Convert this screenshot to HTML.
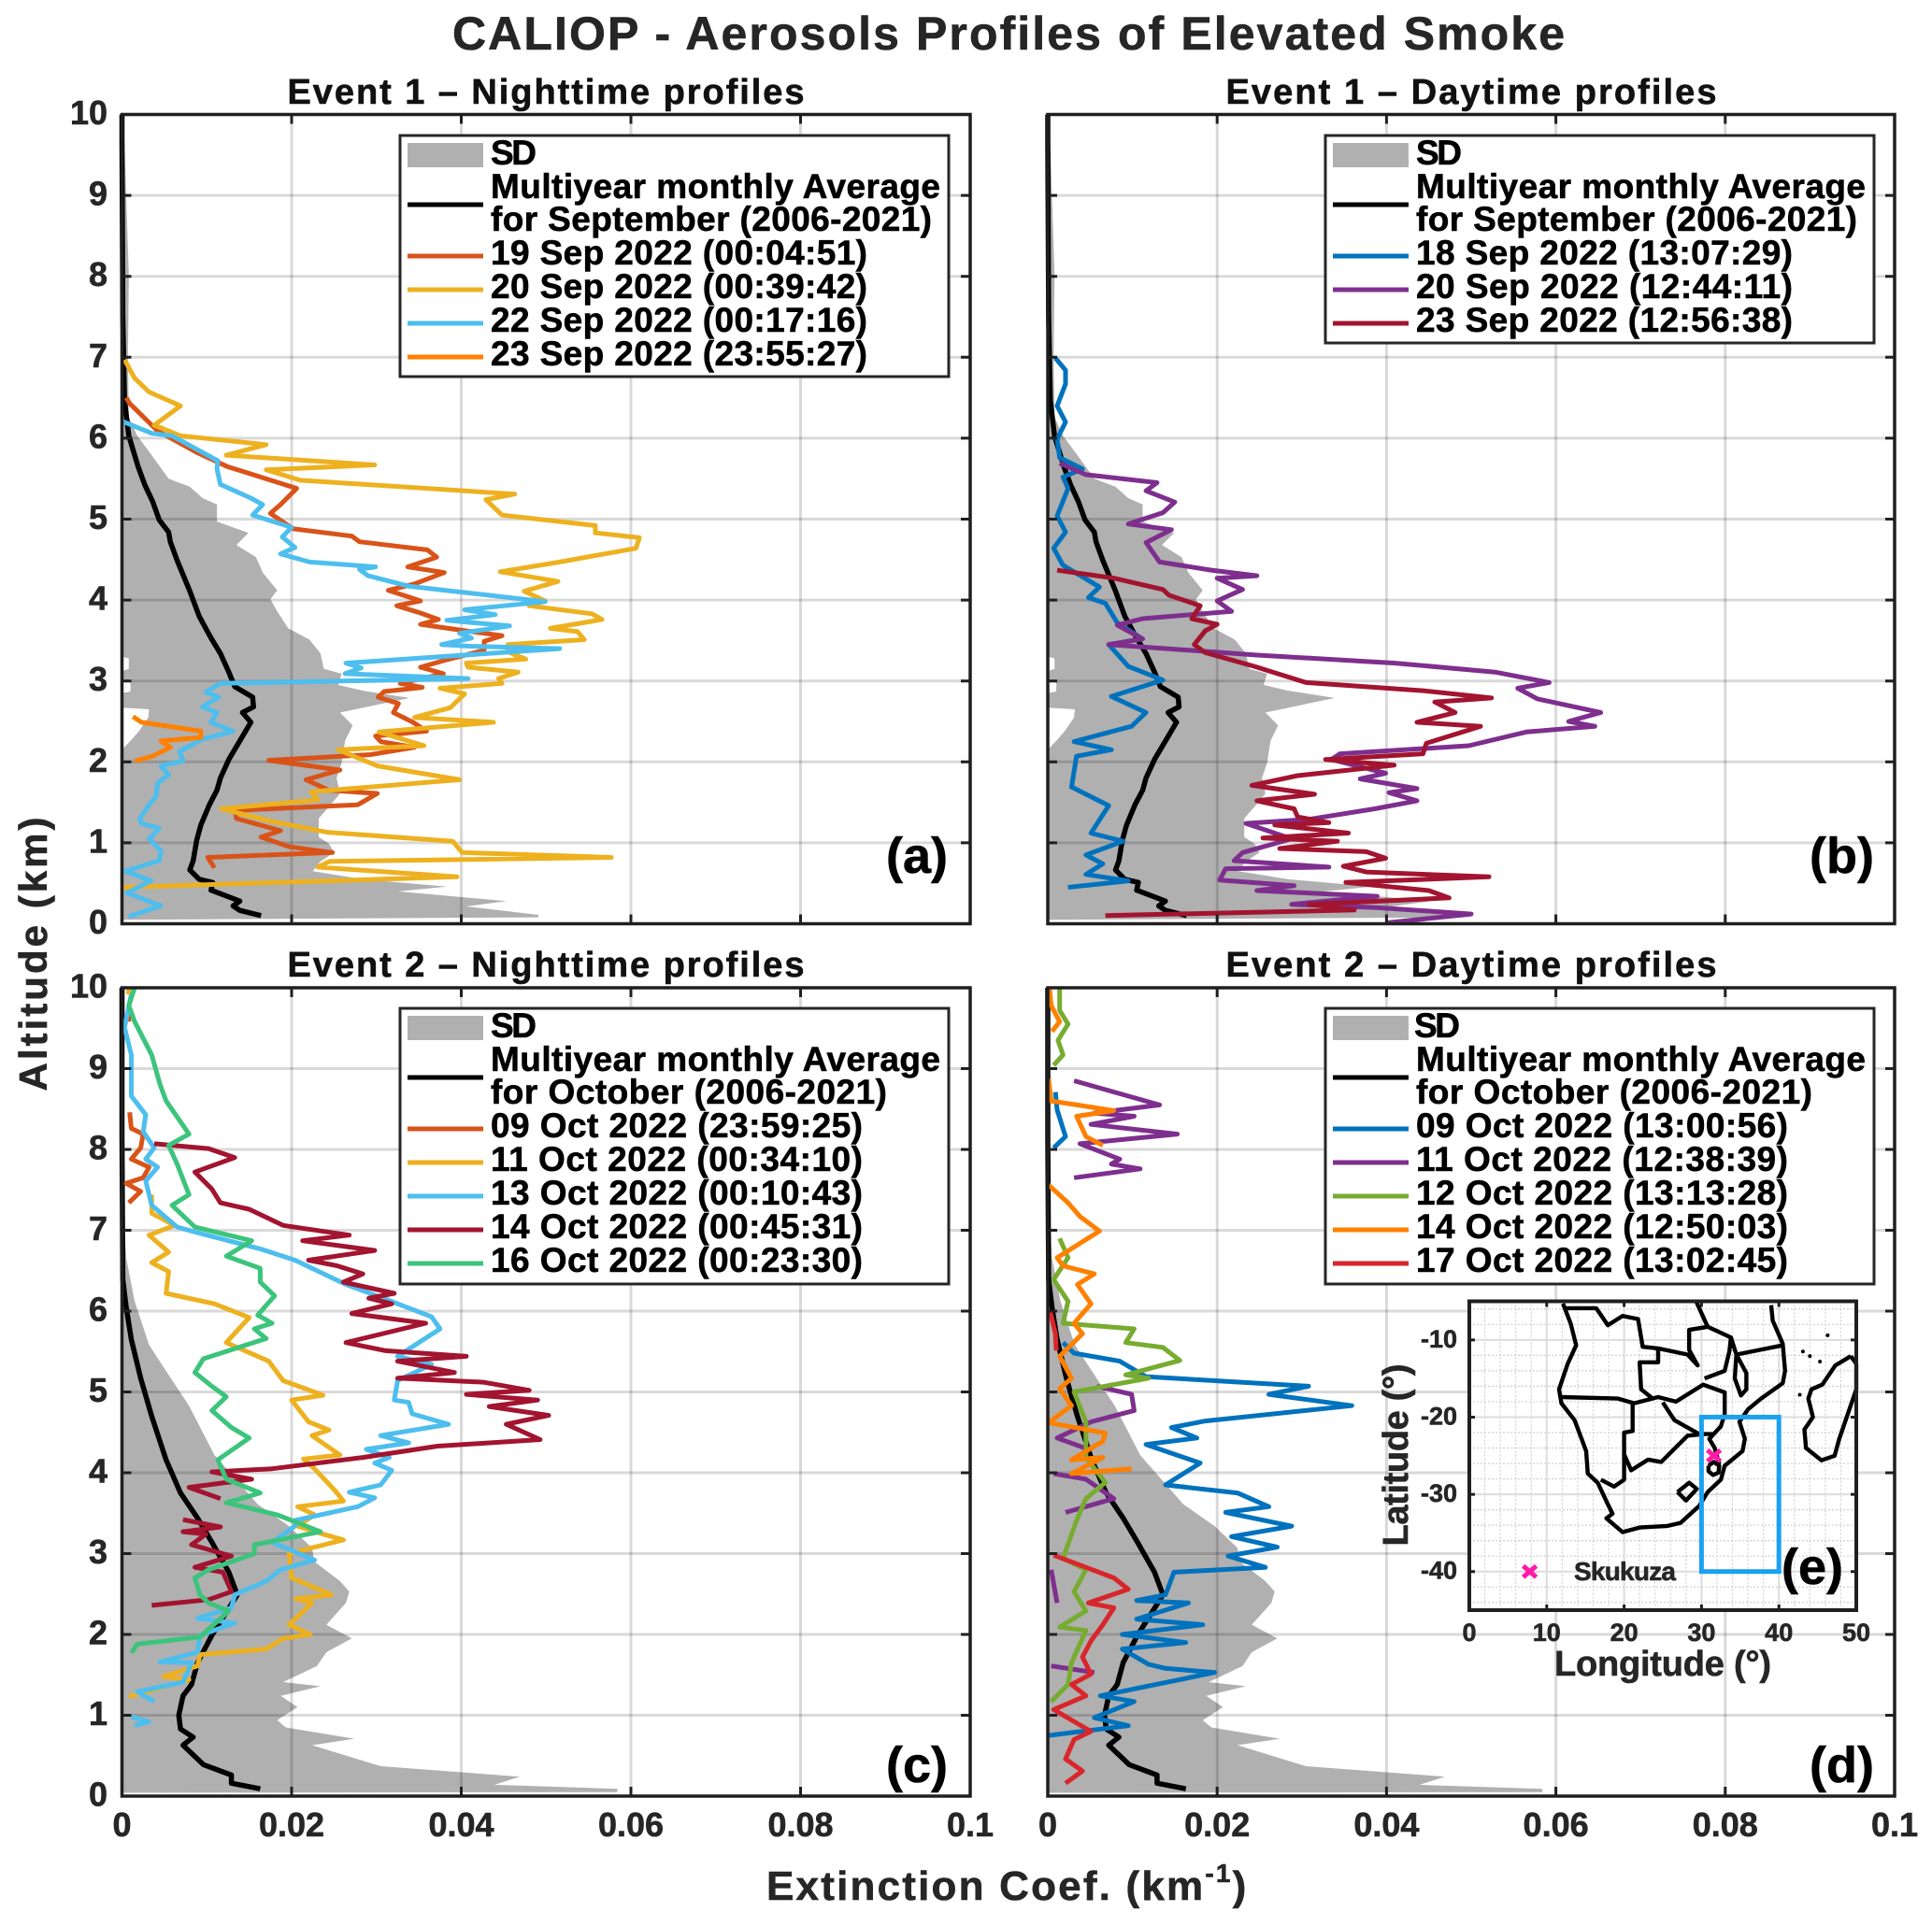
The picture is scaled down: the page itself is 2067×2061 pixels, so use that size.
<!DOCTYPE html>
<html lang="en">
<head>
<meta charset="utf-8">
<title>CALIOP - Aerosols Profiles of Elevated Smoke</title>
<style>
html,body{margin:0;padding:0;background:#fff;}
svg{display:block;}
text{font-family:"Liberation Sans",Arial,sans-serif;font-weight:bold;fill:#262626;stroke:#262626;stroke-width:.6px;}
.lg{font-size:37px;fill:#000;stroke:#000;}
.tick{font-size:36px;}
.plab{font-size:54px;fill:#000;stroke:#000;}
.sub{font-size:38px;fill:#111;stroke:#111;}
.ilab{font-size:27px;}
</style>
</head>
<body>
<svg id="fig" xmlns="http://www.w3.org/2000/svg" width="2067" height="2061" viewBox="0 0 2067 2061">
<rect width="2067" height="2061" fill="#fff"/>
<text x="1079" y="53" text-anchor="middle" font-size="50" textLength="1190" lengthAdjust="spacing">CALIOP - Aerosols Profiles of Elevated Smoke</text>
<text class="sub" x="584" y="111" text-anchor="middle" textLength="553" lengthAdjust="spacing">Event 1 – Nighttime profiles</text>
<text class="sub" x="1574" y="111" text-anchor="middle" textLength="525" lengthAdjust="spacing">Event 1 – Daytime profiles</text>
<text class="sub" x="584" y="1045" text-anchor="middle" textLength="553" lengthAdjust="spacing">Event 2 – Nighttime profiles</text>
<text class="sub" x="1574" y="1045" text-anchor="middle" textLength="525" lengthAdjust="spacing">Event 2 – Daytime profiles</text>
<text transform="translate(50,1021) rotate(-90)" text-anchor="middle" font-size="42" textLength="293" lengthAdjust="spacing">Altitude (km)</text>
<text x="820" y="2033" font-size="44" letter-spacing="2.2">Extinction Coef. (km<tspan font-size="28" dy="-19">-1</tspan><tspan dy="19">)</tspan></text>

<g id="marks-a"></g>
<g id="marks-b"></g>
<g id="marks-c"></g>
<g id="marks-d"></g>

<g transform="translate(428,145)">
<rect width="587" height="258" fill="#fff" stroke="#262626" stroke-width="3"/>
<rect x="8" y="8" width="81" height="26" fill="#b0b0b0"/>
<text class="lg" x="97" y="31" textLength="49" lengthAdjust="spacing">SD</text>
<line x1="8" x2="89" y1="74" y2="74" stroke="#000" stroke-width="5"/>
<text class="lg" x="97" y="67" textLength="481" lengthAdjust="spacing">Multiyear monthly Average</text>
<text class="lg" x="97" y="102" textLength="472" lengthAdjust="spacing">for September (2006-2021)</text>
<line x1="8" x2="89" y1="129" y2="129" stroke="#D95319" stroke-width="5"/>
<text class="lg" x="97" y="138" textLength="403" lengthAdjust="spacing">19 Sep 2022 (00:04:51)</text>
<line x1="8" x2="89" y1="165" y2="165" stroke="#EDB120" stroke-width="5"/>
<text class="lg" x="97" y="174" textLength="403" lengthAdjust="spacing">20 Sep 2022 (00:39:42)</text>
<line x1="8" x2="89" y1="201" y2="201" stroke="#4DBEEE" stroke-width="5"/>
<text class="lg" x="97" y="210" textLength="403" lengthAdjust="spacing">22 Sep 2022 (00:17:16)</text>
<line x1="8" x2="89" y1="237" y2="237" stroke="#FF8000" stroke-width="5"/>
<text class="lg" x="97" y="246" textLength="403" lengthAdjust="spacing">23 Sep 2022 (23:55:27)</text>
</g>

<g transform="translate(1418,145)">
<rect width="587" height="222" fill="#fff" stroke="#262626" stroke-width="3"/>
<rect x="8" y="8" width="81" height="26" fill="#b0b0b0"/>
<text class="lg" x="97" y="31" textLength="49" lengthAdjust="spacing">SD</text>
<line x1="8" x2="89" y1="74" y2="74" stroke="#000" stroke-width="5"/>
<text class="lg" x="97" y="67" textLength="481" lengthAdjust="spacing">Multiyear monthly Average</text>
<text class="lg" x="97" y="102" textLength="472" lengthAdjust="spacing">for September (2006-2021)</text>
<line x1="8" x2="89" y1="129" y2="129" stroke="#0072BD" stroke-width="5"/>
<text class="lg" x="97" y="138" textLength="403" lengthAdjust="spacing">18 Sep 2022 (13:07:29)</text>
<line x1="8" x2="89" y1="165" y2="165" stroke="#7E2F8E" stroke-width="5"/>
<text class="lg" x="97" y="174" textLength="403" lengthAdjust="spacing">20 Sep 2022 (12:44:11)</text>
<line x1="8" x2="89" y1="201" y2="201" stroke="#A2142F" stroke-width="5"/>
<text class="lg" x="97" y="210" textLength="403" lengthAdjust="spacing">23 Sep 2022 (12:56:38)</text>
</g>

<g transform="translate(428,1079)">
<rect width="587" height="295" fill="#fff" stroke="#262626" stroke-width="3"/>
<rect x="8" y="8" width="81" height="26" fill="#b0b0b0"/>
<text class="lg" x="97" y="31" textLength="49" lengthAdjust="spacing">SD</text>
<line x1="8" x2="89" y1="74" y2="74" stroke="#000" stroke-width="5"/>
<text class="lg" x="97" y="67" textLength="481" lengthAdjust="spacing">Multiyear monthly Average</text>
<text class="lg" x="97" y="102" textLength="424" lengthAdjust="spacing">for October (2006-2021)</text>
<line x1="8" x2="89" y1="129" y2="129" stroke="#D95319" stroke-width="5"/>
<text class="lg" x="97" y="138" textLength="398" lengthAdjust="spacing">09 Oct 2022 (23:59:25)</text>
<line x1="8" x2="89" y1="165" y2="165" stroke="#EDB120" stroke-width="5"/>
<text class="lg" x="97" y="174" textLength="398" lengthAdjust="spacing">11 Oct 2022 (00:34:10)</text>
<line x1="8" x2="89" y1="201" y2="201" stroke="#4DBEEE" stroke-width="5"/>
<text class="lg" x="97" y="210" textLength="398" lengthAdjust="spacing">13 Oct 2022 (00:10:43)</text>
<line x1="8" x2="89" y1="237" y2="237" stroke="#A2142F" stroke-width="5"/>
<text class="lg" x="97" y="246" textLength="398" lengthAdjust="spacing">14 Oct 2022 (00:45:31)</text>
<line x1="8" x2="89" y1="273" y2="273" stroke="#3CC47C" stroke-width="5"/>
<text class="lg" x="97" y="282" textLength="398" lengthAdjust="spacing">16 Oct 2022 (00:23:30)</text>
</g>

<g transform="translate(1418,1079)">
<rect width="587" height="295" fill="#fff" stroke="#262626" stroke-width="3"/>
<rect x="8" y="8" width="81" height="26" fill="#b0b0b0"/>
<text class="lg" x="95" y="31" textLength="49" lengthAdjust="spacing">SD</text>
<line x1="8" x2="89" y1="74" y2="74" stroke="#000" stroke-width="5"/>
<text class="lg" x="97" y="67" textLength="481" lengthAdjust="spacing">Multiyear monthly Average</text>
<text class="lg" x="97" y="102" textLength="424" lengthAdjust="spacing">for October (2006-2021)</text>
<line x1="8" x2="89" y1="129" y2="129" stroke="#0072BD" stroke-width="5"/>
<text class="lg" x="97" y="138" textLength="398" lengthAdjust="spacing">09 Oct 2022 (13:00:56)</text>
<line x1="8" x2="89" y1="165" y2="165" stroke="#7E2F8E" stroke-width="5"/>
<text class="lg" x="97" y="174" textLength="398" lengthAdjust="spacing">11 Oct 2022 (12:38:39)</text>
<line x1="8" x2="89" y1="201" y2="201" stroke="#77AC30" stroke-width="5"/>
<text class="lg" x="97" y="210" textLength="398" lengthAdjust="spacing">12 Oct 2022 (13:13:28)</text>
<line x1="8" x2="89" y1="237" y2="237" stroke="#FF8000" stroke-width="5"/>
<text class="lg" x="97" y="246" textLength="398" lengthAdjust="spacing">14 Oct 2022 (12:50:03)</text>
<line x1="8" x2="89" y1="273" y2="273" stroke="#D9262B" stroke-width="5"/>
<text class="lg" x="97" y="282" textLength="398" lengthAdjust="spacing">17 Oct 2022 (13:02:45)</text>
</g>

<text class="plab" x="1014" y="934" text-anchor="end">(a)</text>
<text class="plab" x="2005" y="934" text-anchor="end">(b)</text>
<text class="plab" x="1014" y="1907" text-anchor="end">(c)</text>
<text class="plab" x="2005" y="1907" text-anchor="end">(d)</text>

<g id="inset"></g>
<text x="1663" y="1793" font-size="38" textLength="232" lengthAdjust="spacing">Longitude (°)</text>
<text transform="translate(1506,1557) rotate(-90)" text-anchor="middle" font-size="38" textLength="195" lengthAdjust="spacing">Latitude (°)</text>
<text x="1684" y="1691" font-size="28" textLength="109" lengthAdjust="spacing">Skukuza</text>
<text class="plab" x="1972" y="1695" text-anchor="end">(e)</text>
</svg>

<script>
// ---- Axis ticks ----
const xTickValues = [0, 0.02, 0.04, 0.06, 0.08, 0.1];
const xTickLabels = ['0', '0.02', '0.04', '0.06', '0.08', '0.1'];
const yTickValues = [0, 1, 2, 3, 4, 5, 6, 7, 8, 9, 10];
const yTickLabels = ['0', '1', '2', '3', '4', '5', '6', '7', '8', '9', '10'];

// ---- Climatology: [extinction km-1, altitude km] ----
const sdSepRight = [[.0491,.08],[.0491,.11],[.0406,.215],[.0453,.28],[.0326,.40],[.0383,.46],[.0284,.55],[.0225,.65],[.0234,.77],[.025,.88],[.0244,.99],[.0232,1.07],[.0232,1.30],[.0246,1.47],[.0257,1.61],[.0253,1.80],[.0259,1.99],[.0263,2.26],[.0272,2.45],[.0257,2.61],[.0339,2.79],[.0284,2.88],[.0255,2.95],[.0259,3.09],[.0238,3.15],[.0234,3.34],[.0221,3.51],[.0196,3.65],[.0183,3.86],[.0175,4.01],[.0183,4.12],[.0166,4.34],[.0158,4.53],[.0135,4.68],[.0149,4.83],[.0112,4.97],[.0112,5.18],[.0095,5.26],[.008,5.40],[.0055,5.50],[.0035,5.79],[.0018,6.03],[.0008,6.26],[.0007,7.0],[.0008,8.02],[.0003,9.65],[0,10]];
const sdSepLeft = [[0,10],[0,3.3],[.0008,3.28],[.0008,3.15],[0,3.12],[0,3.0],[.001,2.98],[.001,2.87],[0,2.85],[0,2.67],[.0032,2.65],[.0031,2.55],[.002,2.38],[.001,2.26],[0,2.15],[0,.05]];
const meanSep = [[.0164,.10],[.0139,.165],[.0131,.22],[.0139,.28],[.0124,.34],[.0105,.415],[.0107,.51],[.0091,.55],[.008,.665],[.0084,.78],[.0088,1.03],[.0093,1.22],[.0103,1.47],[.0112,1.65],[.0116,1.8],[.0126,2.03],[.0152,2.49],[.0142,2.61],[.0155,2.68],[.0154,2.8],[.0133,2.93],[.0126,3.11],[.0116,3.34],[.0105,3.53],[.0091,3.8],[.008,4.11],[.0065,4.49],[.0057,4.72],[.0055,4.84],[.0044,4.99],[.0036,5.22],[.0027,5.42],[.0019,5.65],[.0008,6.03],[.0003,6.47],[.0001,7.5],[0,9.65],[0,10]];
const sdOctRight = [[.0584,.05],[.0584,.09],[.0439,.14],[.0469,.24],[.0305,.37],[.0224,.63],[.0274,.71],[.0193,.85],[.0183,.94],[.0207,1.1],[.0187,1.24],[.0234,1.36],[.019,1.41],[.023,1.61],[.0241,1.78],[.0271,1.95],[.0241,2.12],[.0264,2.39],[.0268,2.53],[.0257,2.66],[.0227,2.9],[.0224,3.07],[.0197,3.34],[.016,3.61],[.0109,4.22],[.0079,4.83],[.0055,5.21],[.0032,5.58],[.0015,6.12],[.0005,6.66],[.0003,7.0],[0,8.15]];
const sdOctLeft = [[0,8.15],[0,.04]];
const meanOct = [[.0163,.09],[.0129,.16],[.0129,.26],[.0096,.39],[.0072,.63],[.0084,.73],[.0069,.83],[.0067,1.0],[.0072,1.24],[.0082,1.38],[.0089,1.65],[.0106,1.99],[.0136,2.49],[.0126,2.77],[.0106,3.14],[.0089,3.44],[.0069,3.75],[.0052,4.16],[.0035,4.7],[.0022,5.17],[.0011,5.65],[.0005,6.05],[.0001,6.39],[0,8.15],[0,10]];

// ---- Panel (a) Event 1 night ----
const night19Sep = [[.0109,.69],[.0101,.82],[.0248,.88],[.0198,.95],[.0164,1.07],[.0187,1.15],[.0135,1.30],[.0133,1.40],[.0278,1.47],[.0301,1.61],[.0244,1.65],[.0217,1.78],[.0257,1.90],[.0173,2.02],[.0259,2.07],[.0293,2.09],[.0345,2.18],[.0305,2.25],[.0299,2.32],[.0359,2.38],[.0343,2.49],[.032,2.61],[.0326,2.72],[.0302,2.80],[.0309,2.87],[.0354,2.92],[.0328,2.97],[.0379,3.09],[.0352,3.17],[.0379,3.25],[.0427,3.38],[.0427,3.49],[.0448,3.56],[.0398,3.63],[.0352,3.70],[.0373,3.76],[.0352,3.84],[.0324,3.93],[.0352,3.99],[.0314,4.12],[.0345,4.2],[.038,4.34],[.0337,4.41],[.0371,4.53],[.036,4.62],[.028,4.72],[.0271,4.79],[.0202,4.88],[.0175,5.07],[.0187,5.18],[.0206,5.38],[.0124,5.65],[.0089,5.82],[.0042,6.09],[.0009,6.43],[.0005,6.5]];
const night20Sep = [[0,.45],[.0395,.58],[.0231,.70],[.0245,.77],[.0577,.82],[.0401,.88],[.039,1.02],[.0242,1.13],[.0179,1.26],[.0117,1.42],[.0231,1.53],[.0223,1.63],[.0398,1.78],[.0301,1.95],[.0255,2.15],[.0356,2.20],[.0303,2.37],[.0438,2.49],[.0345,2.55],[.0387,2.67],[.0404,2.84],[.0375,2.91],[.0448,2.97],[.0444,3.03],[.0467,3.11],[.0408,3.17],[.0406,3.22],[.0476,3.27],[.0455,3.36],[.0455,3.45],[.0545,3.51],[.0537,3.61],[.0505,3.65],[.0566,3.76],[.0554,3.83],[.048,3.93],[.0499,3.99],[.0474,4.11],[.0514,4.23],[.0446,4.35],[.0516,4.47],[.0606,4.64],[.061,4.77],[.0558,4.83],[.0558,4.92],[.0448,5.05],[.0429,5.24],[.0463,5.31],[.021,5.48],[.017,5.61],[.0298,5.67],[.0123,5.79],[.017,5.92],[.0069,6.03],[.0038,6.16],[.0069,6.40],[.0032,6.57],[.0015,6.74],[.0003,6.97]];
const night22Sep = [[.0008,.09],[.0046,.22],[.0006,.38],[.0034,.53],[.0004,.65],[.0044,.78],[.0046,.9],[.0032,1.05],[.0044,1.18],[.0023,1.24],[.0021,1.30],[.0032,1.47],[.004,1.57],[.0042,1.74],[.0055,1.84],[.0046,1.95],[.0072,2.01],[.0068,2.13],[.0095,2.28],[.0131,2.38],[.0105,2.49],[.0112,2.61],[.0095,2.68],[.0114,2.80],[.0099,2.86],[.0116,2.97],[.0408,3.03],[.0263,3.09],[.0282,3.16],[.0264,3.22],[.0516,3.40],[.041,3.43],[.0377,3.45],[.0412,3.53],[.0398,3.59],[.0457,3.68],[.0383,3.75],[.044,3.82],[.0404,3.88],[.0499,3.98],[.0339,4.17],[.029,4.30],[.028,4.38],[.0299,4.41],[.0221,4.47],[.0187,4.57],[.0204,4.65],[.0189,4.78],[.02,4.9],[.0154,5.05],[.0166,5.18],[.0152,5.26],[.0116,5.43],[.0112,5.62],[.0113,5.72],[.0059,6.03],[.0035,6.06],[0,6.21]];
const night23Sep = [[.0015,2.01],[.0036,2.07],[.0057,2.18],[.0046,2.26],[.0093,2.30],[.0093,2.38],[.0023,2.49],[.0013,2.56]];

// ---- Panel (b) Event 1 day ----
const day18Sep = [[.0024,.45],[.0095,.53],[.0045,.61],[.0065,.74],[.0045,.85],[.0089,1.02],[.0051,1.12],[.0072,1.46],[.0028,1.69],[.0034,2.07],[.0075,2.15],[.0031,2.25],[.0099,2.44],[.0116,2.61],[.0075,2.81],[.0136,3.01],[.0095,3.18],[.0072,3.45],[.0112,3.52],[.0082,3.72],[.0068,3.96],[.0048,4.03],[.0061,4.16],[.0018,4.43],[.0007,4.64],[.0021,4.84],[.0011,5.04],[.0024,5.38],[.0018,5.52],[.0041,5.62],[.0014,5.76],[.0011,5.99],[.0021,6.2],[.0011,6.4],[.0021,6.67],[.0021,6.84],[.0009,6.99]];
const day20Sep = [[.0399,.01],[.05,.12],[.0389,.2],[.0288,.24],[.0389,.34],[.0247,.41],[.0291,.47],[.0203,.54],[.021,.68],[.0332,.7],[.022,.78],[.023,.88],[.0288,1.05],[.0234,1.24],[.0308,1.29],[.0386,1.42],[.0436,1.52],[.0403,1.62],[.0436,1.67],[.0369,1.79],[.0399,1.86],[.0335,2.03],[.0345,2.1],[.0497,2.2],[.0565,2.37],[.0646,2.44],[.0615,2.5],[.0653,2.61],[.0578,2.78],[.0555,2.91],[.0592,2.98],[.0528,3.11],[.041,3.22],[.0247,3.32],[.0072,3.45],[.0112,3.52],[.0082,3.69],[.0112,3.77],[.0217,3.86],[.02,3.99],[.023,4.13],[.02,4.27],[.0247,4.3],[.0193,4.37],[.0132,4.47],[.0116,4.71],[.0146,4.87],[.0095,4.94],[.0136,5.08],[.015,5.21],[.0116,5.35],[.0129,5.45],[.0045,5.55],[.0014,5.69]];
const day23Sep = [[.0068,.1],[.0362,.17],[.0308,.24],[.0474,.32],[.045,.41],[.0352,.51],[.0521,.58],[.0376,.64],[.0349,.71],[.0399,.81],[.0376,.89],[.0274,.93],[.0342,1.02],[.0254,1.06],[.0355,1.12],[.0268,1.22],[.0332,1.25],[.0295,1.32],[.0291,1.42],[.0247,1.52],[.0315,1.6],[.0241,1.71],[.0295,1.83],[.0409,1.96],[.0328,2.03],[.0443,2.1],[.0447,2.23],[.0511,2.44],[.0436,2.49],[.0481,2.61],[.0457,2.74],[.0524,2.79],[.0443,2.88],[.0305,2.98],[.0244,3.18],[.0186,3.35],[.0173,3.45],[.0186,3.62],[.02,3.7],[.017,3.77],[.018,3.93],[.0143,4.06],[.0136,4.13],[.0078,4.27],[.0011,4.37]];

// ---- Panel (c) Event 2 night (null = data gap) ----
const night09Oct = [[.0008,7.34],[.0022,7.48],[.0005,7.58],[.0025,7.65],[.0032,7.78],[.0011,7.88],[.0022,8.02],[.0025,8.19],[.0011,8.26],[.0009,8.46],null,[.0008,9.58],[.0008,9.78]];
const night11Oct = [[.0008,1.23],[.0079,1.44],[.0049,1.48],[.0089,1.61],[.0092,1.75],[.017,1.82],[.019,1.95],[.0222,2.0],[.0197,2.12],[.0224,2.39],[.0205,2.44],[.0247,2.49],[.02,2.7],[.0197,3.0],[.0261,3.17],[.0237,3.24],[.0207,3.34],[.0227,3.48],[.0207,3.58],[.0261,3.65],[.0251,3.78],[.0227,4.05],[.0214,4.17],[.0257,4.22],[.0224,4.46],[.0244,4.53],[.022,4.63],[.02,4.9],[.0237,4.96],[.019,5.14],[.0173,5.38],[.0123,5.61],[.015,5.92],[.0109,6.09],[.0052,6.22],[.0055,6.49],[.0035,6.6],[.0055,6.73],[.0032,6.94],[.0062,7.06],[.0035,7.21],[.0035,7.44],null,[.0007,9.92],[.0009,10]];
const night13Oct = [[.0015,.87],[.0032,.92],[.0011,.98],null,[.0038,1.17],[.0018,1.29],[.0072,1.41],[.0082,1.65],[.0045,1.66],[.0089,1.78],[.0092,1.99],[.0133,2.14],[.0089,2.2],[.0129,2.33],[.0133,2.49],[.017,2.66],[.0187,2.8],[.0227,2.92],[.0177,3.14],[.0204,3.34],[.0204,3.41],[.0278,3.58],[.0298,3.69],[.0268,3.76],[.0305,3.85],[.0318,4.03],[.0298,4.12],[.0315,4.19],[.0288,4.29],[.0338,4.37],[.0305,4.46],[.0385,4.6],[.0342,4.73],[.0338,4.87],[.0321,4.9],[.0325,5.14],[.0365,5.34],[.0325,5.44],[.0375,5.78],[.0365,5.93],[.0308,6.16],[.0264,6.33],[.0204,6.63],[.0163,6.77],[.0089,6.97],[.0065,7.04],[.0035,7.31],[.0028,7.61],[.0042,7.78],[.0028,7.88],[.0038,8.02],[.0025,8.22],[.0028,8.43],[.0011,8.66],[.0011,9.17],[.0003,9.51],[.0011,9.92]];
const night14Oct = [[.0035,2.36],[.0102,2.43],[.0129,2.53],[.0119,2.77],[.0086,2.83],[.0129,2.97],[.0082,3.11],[.0099,3.24],[.0072,3.27],[.0116,3.33],[.0072,3.42],null,[.0116,3.68],[.0079,3.82],[.0153,3.92],[.0106,4.01],[.0177,4.05],[.0284,4.19],[.0372,4.33],[.0493,4.41],[.0453,4.6],[.0503,4.71],[.0433,4.82],[.049,4.9],[.0406,4.97],[.048,5.02],[.0426,5.12],[.0325,5.17],[.0392,5.24],[.0325,5.38],[.0406,5.44],[.0311,5.51],[.0264,5.61],[.0358,5.85],[.0271,5.97],[.0318,6.09],[.0291,6.16],[.0321,6.22],[.0261,6.36],[.0284,6.46],[.0254,6.56],[.022,6.63],[.0298,6.75],[.0213,6.87],[.0268,6.94],[.019,7.06],[.015,7.26],[.0116,7.34],[.0106,7.51],[.0086,7.72],[.0133,7.9],[.0102,8.01],[.0038,8.07]];
const night16Oct = [[.0011,1.77],[.0018,1.88],[.0092,1.97],[.0126,2.29],[.0102,2.39],[.0092,2.49],[.0086,2.7],[.0102,2.8],[.0156,3.0],[.0156,3.11],[.0234,3.27],[.0183,3.48],[.0123,3.63],[.0163,3.75],[.0123,3.92],[.0113,4.16],[.015,4.43],[.0129,4.56],[.0106,4.77],[.0123,4.94],[.0106,5.07],[.0086,5.24],[.0096,5.41],[.017,5.66],[.0156,5.78],[.0177,5.85],[.016,5.95],[.018,6.19],[.0163,6.36],[.0163,6.53],[.0123,6.68],[.0153,6.87],[.0086,7.04],[.0059,7.31],[.0079,7.44],[.0065,7.82],[.0055,8.05],[.0079,8.19],[.0052,8.6],[.0045,8.8],[.0035,9.17],[.0015,9.58],[.0008,9.78],[.0015,10]];

// ---- Panel (d) Event 2 day (null = data gap) ----
const day09Oct = [[.0001,.75],[.0095,.87],[.0055,.97],[.0102,1.17],[.0062,1.24],[.0197,1.53],[.0139,1.58],[.0119,1.63],[.0088,1.82],[.0163,1.9],[.0088,2.0],[.0183,2.12],[.0105,2.19],[.0166,2.39],[.0105,2.42],[.0139,2.49],[.0149,2.77],[.0257,2.83],[.0213,2.97],[.0271,3.08],[.0217,3.21],[.0288,3.34],[.021,3.51],[.0261,3.58],[.0224,3.75],[.0139,3.85],[.018,4.12],[.0116,4.35],[.0176,4.43],[.0146,4.56],[.0186,4.64],[.0359,4.83],[.0261,4.97],[.0308,5.07],[.0116,5.19],[.0085,5.38],[.0031,5.48],[.0018,5.61],null,[.0007,8.02],[.0021,8.16],[.0011,8.49],[.0009,8.71]];
const day11Oct = [[.0004,1.61],[.0055,1.53],null,[.0004,2.8],[.0011,2.39],null,[.0021,3.51],[.0078,3.68],[.0045,3.92],[.0007,3.99],null,[.0048,4.29],[.0011,4.43],[.0051,4.63],[.0102,4.77],[.0099,4.97],[.0058,5.07],null,[.0031,7.65],[.0109,7.76],[.0075,7.82],[.0085,7.88],[.0038,8.07],[.0153,8.19],[.0051,8.31],[.0102,8.41],[.0055,8.45],[.0132,8.55],[.0031,8.85]];
const day12Oct = [[.0004,1.17],[.0024,1.38],[.0028,1.65],[.0045,2.05],[.0014,2.09],[.0045,2.29],[.0031,2.53],[.0045,2.8],[.0018,2.94],[.0034,3.41],[.0045,3.68],[.0068,3.88],[.0045,4.19],[.0045,4.63],[.0031,5],[.0119,5.17],[.0092,5.21],[.0156,5.39],[.0136,5.55],[.0092,5.61],[.0102,5.78],[.0018,5.85],[.0024,6.12],[.0007,6.39],[.0024,6.66],[.0014,6.9],null,[.0007,9.04],[.0018,9.17],[.0012,9.35],[.0024,9.55],[.0014,9.72],[.0014,10]];
const day14Oct = [[.0099,4.05],[.0028,3.99],[.0065,4.19],[.0028,4.16],[.0065,4.39],[.0068,4.49],[.0001,4.62],[.0028,4.83],[.0014,5.04],[.0028,5.17],[.0014,5.44],[.0041,5.72],[.0031,5.85],[.0051,6.09],[.0035,6.33],[.0055,6.46],[.0018,6.56],[.0011,6.66],[.0061,6.99],[.0038,7.17],[.0024,7.34],[.0001,7.56],null,[.0065,8.05],[.0045,8.16],[.0034,8.41],[.0078,8.48],[.0004,8.6],[.0001,8.87],null,[.0005,9.46],[.0014,9.58],[.0004,9.78],[.0002,10]];
const day17Oct = [[.0021,.16],[.0041,.31],[.0021,.46],[.0031,.7],[.0051,.8],[.0007,1.07],[.0045,1.24],[.0028,1.38],[.0051,1.51],[.0041,1.72],[.0051,1.92],[.0065,2.12],[.0078,2.33],[.0048,2.39],[.0095,2.56],[.0078,2.7],[.0045,2.83],[.0007,2.98],null,[.001,5.51],[.0009,5.72],[.0003,5.99]];

// ---- Inset map ticks and outlines: [longitude, latitude] ----
const lonTicks = [0, 10, 20, 30, 40, 50];
const latTicks = [-40, -30, -20, -10];
const coastAfrica = [[12.1,-5.3],[13.1,-7.9],[13.8,-10.7],[12.7,-13.1],[11.6,-16.4],[11.9,-18.2],[13.6,-20.4],[15.1,-24.4],[15.3,-27.3],[16.6,-28.5],[17.9,-31.3],[18.5,-32.5],[17.7,-33.1],[19.8,-34.9],[22,-34.3],[25.6,-34.1],[27.3,-33.7],[29.7,-31.5],[30.8,-29.7],[32.5,-28.1],[33,-26.3],[35.3,-24.4],[35.6,-22.8],[34.9,-20.6],[36,-19],[37.7,-17.6],[40.5,-15.6],[40.8,-14],[40.5,-10.5],[39.2,-7.5],[39,-5.5]];
const madagascar = [[49.3,-12.1],[47.3,-13.3],[45.6,-15.8],[44.2,-16.4],[43.8,-17.6],[44.4,-20],[43.3,-21.6],[43.5,-24],[45.5,-25.6],[47.2,-25],[47.8,-22.8],[50,-16.4],[50,-13.1],[49.3,-12.1]];
const borderCongoNorth = [[12.3,-5.9],[16.4,-5.9],[17.9,-8.1],[19.8,-6.9],[21.8,-7.3],[22.4,-10.9],[24.4,-11.1],[28.2,-11.9],[29.5,-13.3],[28.4,-11.3],[28.4,-8.7],[30.8,-8.3],[33.8,-9.7],[33.6,-11.5],[33,-14],[30.4,-15]];
const borderAngolaEast = [[24.4,-11.1],[24.4,-12.9],[22,-12.9],[22.2,-16.4],[23.7,-17.6]];
const borderSouthern = [[11.9,-17.4],[19.2,-17.6],[21.3,-18.2],[24.4,-17.4],[26.7,-18],[30.2,-15.8],[33,-16.8],[33,-19.6],[32.5,-21.2],[31,-22.8],[31.7,-24],[32.3,-26.1]];
const borderTanzania = [[29.3,-5],[30.8,-8.3]];
const borderMalawi = [[33.8,-9.7],[34.5,-11.9],[35.8,-14.3],[35.8,-16.4],[35.1,-17.2],[34.3,-15],[34.5,-11.9],[40.5,-10.7]];
const borderNamibia = [[21.1,-18.2],[21.1,-21.8],[20,-22],[20,-28.1],[18.7,-29],[17,-28.1]];
const borderBotswana = [[20,-24.8],[20.9,-26.9],[23.1,-25.5],[24.8,-25.8],[28.2,-22.4],[30.4,-22.2],[31.4,-22.2]];
const borderZimbabwe = [[25,-18.1],[26.5,-20.4],[29.7,-22.2]];
const borderLesotho = [[26.9,-29.7],[28.4,-28.5],[29.4,-29.3],[28,-30.8],[26.9,-29.7]];
const borderSwaziland = [[30.9,-26.3],[31.6,-25.8],[32.3,-26.3],[32.2,-27.2],[31.5,-27.5],[30.9,-27],[30.9,-26.3]];
const islandDots = [[46.3,-9.4],[43.1,-11.5],[44,-12.1],[45.3,-12.8],[42.7,-17.1]];
const studyBoxLon = [30, 40];
const studyBoxLat = [-40, -20];
const siteMarkers = [[31.6,-25],[7.8,-40]];

const NS = 'http://www.w3.org/2000/svg';
const AXIS = '#1f1f1f';

function mk(parent, tag, attrs) {
  const el = document.createElementNS(NS, tag);
  for (const k in attrs) el.setAttribute(k, attrs[k]);
  parent.appendChild(el);
  return el;
}
function panelScales(x0, x1, y0, y1) {
  return {
    x0: x0, x1: x1, y0: y0, y1: y1,
    sx: function (v) { return x0 + v / 0.1 * (x1 - x0); },
    sy: function (a) { return y1 - a / 10 * (y1 - y0); }
  };
}
function pathOf(points, sx, sy) {
  let d = '';
  let pen = false;
  points.forEach(function (p) {
    if (p === null) { pen = false; return; }
    d += (pen ? 'L' : 'M') + sx(p[0]).toFixed(1) + ' ' + sy(p[1]).toFixed(1);
    pen = true;
  });
  return d;
}
function drawShade(g, P, right, left) {
  const el = mk(g, 'path', { d: pathOf(right.concat(left), P.sx, P.sy) + 'Z', fill: '#b0b0b0' });
  
  
}
function drawGrid(g, P) {
  xTickValues.slice(1, -1).forEach(function (v) {
    const el = mk(g, 'line', { x1: P.sx(v), x2: P.sx(v), y1: P.y0, y2: P.y1, stroke: 'rgba(0,0,0,0.15)', 'stroke-width': 3 });
    
    
  });
  yTickValues.slice(1, -1).forEach(function (v) {
    const el = mk(g, 'line', { x1: P.x0, x2: P.x1, y1: P.sy(v), y2: P.sy(v), stroke: 'rgba(0,0,0,0.15)', 'stroke-width': 3 });
    
    
  });
}
function drawLine(g, P, points, color, name, width) {
  const el = mk(g, 'path', { d: pathOf(points, P.sx, P.sy), fill: 'none', stroke: color, 'stroke-width': width || 5, 'stroke-linejoin': 'round', 'stroke-linecap': 'butt' });
  
  
}
function drawAxes(g, P, showX, showY) {
  const box = mk(g, 'rect', { x: P.x0, y: P.y0, width: P.x1 - P.x0, height: P.y1 - P.y0, fill: 'none', stroke: AXIS, 'stroke-width': 3.5 });
  
  
  xTickValues.forEach(function (v, i) {
    const x = P.sx(v);
    const tk = mk(g, 'path', { d: 'M' + x + ' ' + P.y1 + 'v-10M' + x + ' ' + P.y0 + 'v10', stroke: AXIS, 'stroke-width': 3 });
    
    
    if (showX) {
      const t = mk(g, 'text', { x: x, y: 1965, 'text-anchor': 'middle', class: 'tick' });
      
      
      t.textContent = xTickLabels[i];
    }
  });
  yTickValues.forEach(function (v, i) {
    const y = P.sy(v);
    const tk = mk(g, 'path', { d: 'M' + P.x0 + ' ' + y + 'h10M' + P.x1 + ' ' + y + 'h-10', stroke: AXIS, 'stroke-width': 3 });
    
    
    if (showY) {
      const t = mk(g, 'text', { x: 115, y: y + 10.5, 'text-anchor': 'end', class: 'tick' });
      
      
      t.textContent = yTickLabels[i];
    }
  });
}

const PA = panelScales(130.5, 1038, 122.5, 988.5);
const PB = panelScales(1121, 2027, 122.5, 988.5);
const PC = panelScales(130.5, 1038, 1057, 1922);
const PD = panelScales(1121, 2027, 1057, 1922);

function drawPanel(id, P, right, left, mean, series, showX, showY) {
  const g = document.getElementById(id);
  drawShade(g, P, right, left);
  drawGrid(g, P);
  drawLine(g, P, mean, '#000', 'mean-profile', 5.5);
  series.forEach(function (s) { drawLine(g, P, s[0], s[1], s[2]); });
  drawAxes(g, P, showX, showY);
}
drawPanel('marks-a', PA, sdSepRight, sdSepLeft, meanSep, [
  [night19Sep, '#D95319', 'profile-19-sep'],
  [night20Sep, '#EDB120', 'profile-20-sep'],
  [night22Sep, '#4DBEEE', 'profile-22-sep'],
  [night23Sep, '#FF8000', 'profile-23-sep']
], false, true);
drawPanel('marks-b', PB, sdSepRight, sdSepLeft, meanSep, [
  [day18Sep, '#0072BD', 'profile-18-sep'],
  [day20Sep, '#7E2F8E', 'profile-20-sep'],
  [day23Sep, '#A2142F', 'profile-23-sep']
], false, false);
drawPanel('marks-c', PC, sdOctRight, sdOctLeft, meanOct, [
  [night09Oct, '#D95319', 'profile-09-oct'],
  [night11Oct, '#EDB120', 'profile-11-oct'],
  [night13Oct, '#4DBEEE', 'profile-13-oct'],
  [night14Oct, '#A2142F', 'profile-14-oct'],
  [night16Oct, '#3CC47C', 'profile-16-oct']
], true, true);
drawPanel('marks-d', PD, sdOctRight, sdOctLeft, meanOct, [
  [day09Oct, '#0072BD', 'profile-09-oct'],
  [day11Oct, '#7E2F8E', 'profile-11-oct'],
  [day12Oct, '#77AC30', 'profile-12-oct'],
  [day14Oct, '#FF8000', 'profile-14-oct'],
  [day17Oct, '#D9262B', 'profile-17-oct']
], true, false);

// ---- Inset map ----
(function () {
  const g = document.getElementById('inset');
  const L = 1572, R = 1986, T = 1392.5, B = 1723;
  const lonX = function (v) { return L + v / 50 * (R - L); };
  const latY = function (v) { return T + (-5 - v) / 40 * (B - T); };
  const bg = mk(g, 'rect', { x: L, y: T, width: R - L, height: B - T, fill: '#fff' });
  
  
  for (let lon = 2; lon < 50; lon += 2) {
    const major = lon % 10 === 0;
    const l = mk(g, 'line', { x1: lonX(lon), x2: lonX(lon), y1: T, y2: B, stroke: major ? '#dcdcdc' : '#d0d0d0', 'stroke-width': major ? 2 : 1.2, 'stroke-dasharray': major ? 'none' : '2 2' });
    
    
  }
  for (let lat = -44; lat < -5; lat += 2) {
    const major = lat % 10 === 0;
    const l = mk(g, 'line', { x1: L, x2: R, y1: latY(lat), y2: latY(lat), stroke: major ? '#dcdcdc' : '#d0d0d0', 'stroke-width': major ? 2 : 1.2, 'stroke-dasharray': major ? 'none' : '2 2' });
    
    
  }
  const outlines = [
    [coastAfrica, 'coast-africa'], [madagascar, 'coast-madagascar'], [borderCongoNorth, 'border-congo'],
    [borderAngolaEast, 'border-angola'], [borderSouthern, 'border-southern'], [borderTanzania, 'border-tanzania'],
    [borderMalawi, 'border-malawi'], [borderNamibia, 'border-namibia'], [borderBotswana, 'border-botswana'],
    [borderZimbabwe, 'border-zimbabwe'], [borderLesotho, 'border-lesotho'], [borderSwaziland, 'border-swaziland']
  ];
  outlines.forEach(function (o) {
    const el = mk(g, 'path', { d: pathOf(o[0], lonX, latY), fill: 'none', stroke: '#000', 'stroke-width': 4.4, 'stroke-linejoin': 'round' });
    
    
  });
  islandDots.forEach(function (p) {
    const el = mk(g, 'circle', { cx: lonX(p[0]), cy: latY(p[1]), r: 2, fill: '#000' });
    
    
  });
  const box = mk(g, 'rect', { x: lonX(studyBoxLon[0]), y: latY(studyBoxLat[1]), width: lonX(studyBoxLon[1]) - lonX(studyBoxLon[0]), height: latY(studyBoxLat[0]) - latY(studyBoxLat[1]), fill: 'none', stroke: '#1BA1F2', 'stroke-width': 5 });
  
  
  siteMarkers.forEach(function (p) {
    const x = lonX(p[0]), y = latY(p[1]);
    const el = mk(g, 'path', { d: 'M' + (x - 7) + ' ' + (y - 6) + 'L' + (x + 7) + ' ' + (y + 6) + 'M' + (x + 7) + ' ' + (y - 6) + 'L' + (x - 7) + ' ' + (y + 6), stroke: '#FF1AA8', 'stroke-width': 5 });
    
    
  });
  const frame = mk(g, 'rect', { x: L, y: T, width: R - L, height: B - T, fill: 'none', stroke: AXIS, 'stroke-width': 4 });
  
  
  lonTicks.forEach(function (v) {
    const x = lonX(v);
    const tk = mk(g, 'path', { d: 'M' + x + ' ' + B + 'v-6M' + x + ' ' + T + 'v6', stroke: AXIS, 'stroke-width': 3 });
    
    
    const t = mk(g, 'text', { x: x, y: 1756, 'text-anchor': 'middle', class: 'ilab' });
    
    
    t.textContent = String(v);
  });
  latTicks.forEach(function (v) {
    const y = latY(v);
    const tk = mk(g, 'path', { d: 'M' + L + ' ' + y + 'h6M' + R + ' ' + y + 'h-6', stroke: AXIS, 'stroke-width': 3 });
    
    
    const t = mk(g, 'text', { x: 1559, y: y + 8, 'text-anchor': 'end', class: 'ilab' });
    
    
    t.textContent = String(v);
  });
})();
</script>
</body>
</html>
